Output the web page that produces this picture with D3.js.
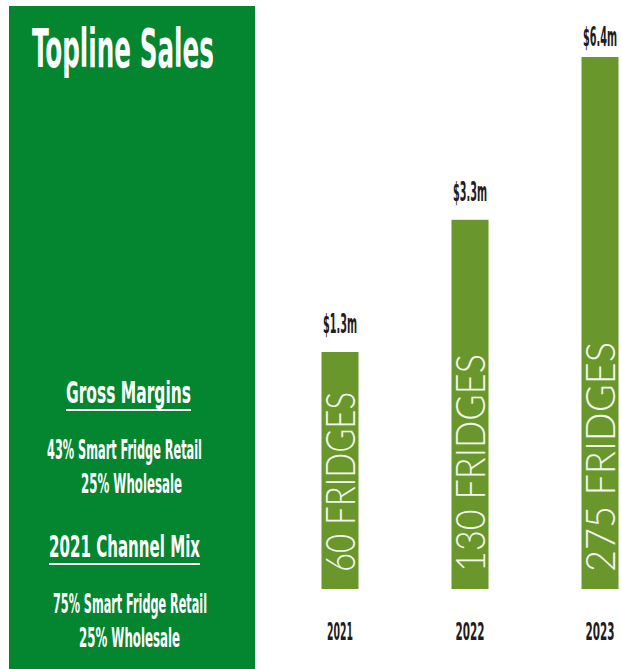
<!DOCTYPE html>
<html>
<head>
<meta charset="utf-8">
<script src="https://cdn.jsdelivr.net/npm/d3@7"></script>
<style>
  body { margin: 0; background: #fff; }
  svg { display: block; }
</style>
</head>
<body>
<div id="chart"></div>
<script>
const years = ["2021", "2022", "2023"];
const sales = [1.3, 3.3, 6.4];
const salesLabels = ["$1.3m", "$3.3m", "$6.4m"];
const fridges = [60, 130, 275];
const marginLines = ["43% Smart Fridge Retail", "25% Wholesale"];
const mixLines = ["75% Smart Fridge Retail", "25% Wholesale"];

const width = 621, height = 669;
const condensed = "'Liberation Sans Narrow','DejaVu Sans Condensed','Roboto',sans-serif";

const svg = d3.select("#chart").append("svg")
    .attr("width", width)
    .attr("height", height);

// squeeze a text to a given width
function fit(sel, w) {
    sel.attr("textLength", w).attr("lengthAdjust", "spacingAndGlyphs");
}

// left green panel
svg.append("rect")
    .attr("x", 9).attr("y", 6)
    .attr("width", 246).attr("height", height)
    .attr("fill", "#04852f");

svg.append("text")
    .attr("x", 32).attr("y", 67)
    .attr("font-family", condensed)
    .attr("font-weight", "bold")
    .attr("font-size", 54)
    .attr("fill", "#fff")
    .text("Topline Sales")
    .call(fit, 182);

function heading(txt, x, y, w) {
    svg.append("text")
        .attr("x", x).attr("y", y)
        .attr("font-family", condensed)
        .attr("font-weight", "bold")
        .attr("font-size", 30)
        .attr("fill", "#fff")
        .text(txt)
        .call(fit, w);
    svg.append("rect")
        .attr("x", x).attr("y", y + 6)
        .attr("width", w).attr("height", 2)
        .attr("fill", "#fff");
}

function lines(arr, specs) {
    arr.forEach((t, i) => {
        svg.append("text")
            .attr("x", specs[i][0]).attr("y", specs[i][1])
            .attr("font-family", condensed)
            .attr("font-weight", "bold")
            .attr("font-size", 27)
            .attr("fill", "#fff")
            .text(t)
            .call(fit, specs[i][2]);
    });
}

heading("Gross Margins", 66, 403, 125);
lines(marginLines, [[47, 459, 155], [81, 493, 101]]);
heading("2021 Channel Mix", 49, 557, 151);
lines(mixLines, [[53, 613, 154], [79, 647, 101]]);

// bars
const x = d3.scalePoint().domain(years).range([340, 600]);
const y = d3.scalePow().exponent(0.7).domain([-0.7, 6.4]).range([589, 57]);
const barW = 37;

const rows = years.map((yr, i) => ({year: yr, sales: sales[i], label: salesLabels[i], fridges: fridges[i]}));

svg.selectAll(".bar")
    .data(rows)
  .enter().append("rect")
    .attr("class", "bar")
    .attr("x", d => x(d.year) - barW / 2)
    .attr("y", d => y(d.sales))
    .attr("width", barW)
    .attr("height", d => y.range()[0] - y(d.sales))
    .attr("fill", "#6a972c");

const fridgeLens = [180, 218, 230];
svg.selectAll(".fr")
    .data(rows)
  .enter().append("text")
    .attr("class", "fr")
    .attr("transform", d => `translate(${x(d.year)},${y.range()[0] - 17}) rotate(-90)`)
    .attr("dy", "0.36em")
    .attr("font-family", "Lato, 'Open Sans', sans-serif")
    .attr("font-weight", 300)
    .attr("font-size", 42)
    .attr("fill", "#f4f7ef")
    .attr("textLength", (d, i) => fridgeLens[i])
    .attr("lengthAdjust", "spacingAndGlyphs")
    .text(d => d.fridges + " FRIDGES");

svg.selectAll(".val")
    .data(rows)
  .enter().append("text")
    .attr("class", "val")
    .attr("x", d => x(d.year))
    .attr("y", d => Math.max(y(d.sales) - 19, 46))
    .attr("text-anchor", "middle")
    .attr("font-family", condensed)
    .attr("font-weight", "bold")
    .attr("font-size", 26)
    .attr("fill", "#1e1e1e")
    .attr("textLength", 34)
    .attr("lengthAdjust", "spacingAndGlyphs")
    .text(d => d.label);

svg.selectAll(".yr")
    .data(rows)
  .enter().append("text")
    .attr("class", "yr")
    .attr("x", d => x(d.year))
    .attr("y", 640)
    .attr("text-anchor", "middle")
    .attr("font-family", condensed)
    .attr("font-weight", "bold")
    .attr("font-size", 25)
    .attr("fill", "#1e1e1e")
    .attr("textLength", d => d.year === "2021" ? 26 : 29)
    .attr("lengthAdjust", "spacingAndGlyphs")
    .text(d => d.year);
</script>
</body>
</html>
